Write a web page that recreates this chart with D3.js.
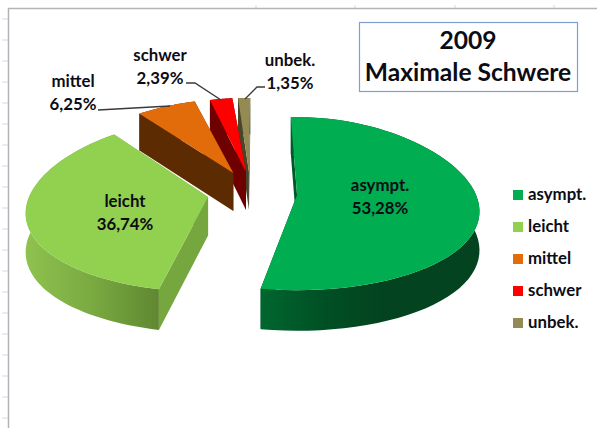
<!DOCTYPE html>
<html><head><meta charset="utf-8">
<script src="https://cdn.jsdelivr.net/npm/d3@7"></script>
<style>html,body{margin:0;padding:0;background:#fff}svg{display:block}text{font-family:Lato,"Open Sans",sans-serif;font-weight:700;fill:#0c0c14}</style>
</head><body><svg id="c" width="597" height="428"></svg>
<script>
const categories = ["asympt.","leicht","mittel","schwer","unbek."];
const values = [53.28,36.74,6.25,2.39,1.35];
const valueLabels = ["53,28%","36,74%","6,25%","2,39%","1,35%"];
const colors = ["#00AD50","#92D050","#E36C0A","#FF0000","#948A54"];
const cutColors = ["#00582A","#76A63E","#5C2B02","#6E0000","#4A452A"];
const explodeU = [0.27,0.246,0.22,0.13,0.1];
const explodeV = [0.27,0.2,0.257,0.248,0.245];
const depthScale = [1,1,0.95,0.95,0.95];
const twistStart = [-1.5,2.5,-1.5,0,1.5];
const twistEnd = [-1,-1.5,-1,0.4,1.5];
const titleLines = ["2009","Maximale Schwere"];

const svg = d3.select("#c");
const C = {x:250,y:193}, rx=179, ry=86.5, ex=175, kx=0.2, ky=0.1;
const depth = d3.scaleLinear().domain([100,330]).range([36.5,41.5]);
const rad = d3.scaleLinear().domain([0,360]).range([0,2*Math.PI]);

// spreadsheet frame and ruler ticks
const g0 = svg.append("g");
g0.selectAll("line.l").data(d3.range(19,428,21)).join("line")
  .attr("x1",2).attr("x2",8).attr("y1",d=>d).attr("y2",d=>d).attr("stroke","#D3D8EA");
g0.selectAll("line.t").data([256,355,455,554]).join("line")
  .attr("x1",d=>d).attr("x2",d=>d).attr("y1",5).attr("y2",8).attr("stroke","#D3D8EA");
g0.append("path").attr("d","M8.5,428V8.5H597").attr("fill","none").attr("stroke","#B4B4B8").attr("stroke-width",1.5);

const defs = svg.append("defs");
function grad(id,stops,x1,x2){
  const g=defs.append("linearGradient").attr("id",id).attr("gradientUnits","userSpaceOnUse")
    .attr("x1",x1).attr("x2",x2).attr("y1",0).attr("y2",0);
  stops.forEach(s=>g.append("stop").attr("offset",s[0]).attr("stop-color",s[1]));
  return `url(#${id})`;
}
const wallFill = [
  grad("w0",[[0,"#00662F"],[0.3,"#004F24"],[0.55,"#04431F"],[1,"#04431F"]],261,480),
  grad("w1",[[0,"#8FC24F"],[0.5,"#79A941"],[1,"#5F8630"]],25,162),
  cutColors[2],cutColors[3],cutColors[4]
];

const arcs = d3.pie().sort(null).value(d=>d).startAngle(rad(-1)).endAngle(rad(359))(values);
const line = d3.line();
const slices = arcs.map((a,i)=>{
  const mid=(a.startAngle+a.endAngle)/2, vm=-Math.cos(mid);
  const apex=[C.x+ex*Math.sin(mid)*explodeU[i], C.y+ry*vm*explodeV[i]];
  const pt=(t)=>{const u=Math.sin(t),v=-Math.cos(t);
    return [apex[0]+rx*u*(1+kx*v), apex[1]+ry*depthScale[i]*v*(1+ky*v)];};
  const arcPts=d3.range(0,61).map(j=>{
    const f=j/60;
    return pt(a.startAngle+(a.endAngle-a.startAngle)*f+rad(twistStart[i]+(twistEnd[i]-twistStart[i])*f));
  });
  return {i,apex,arcPts};
});
const down=p=>[p[0],p[1]+depth(p[1])];
const g=svg.append("g");
// back slices first
[4,3,2,1,0].forEach(i=>{
  const s=slices[i], n=s.arcPts.length-1, gs=g.append("g");
  const quad=(a,b)=>line([a,b,down(b),down(a)])+"Z";
  gs.append("path").attr("d",quad(s.apex,s.arcPts[n])).attr("fill",cutColors[i]);
  gs.append("path").attr("d",quad(s.apex,s.arcPts[0])).attr("fill",cutColors[i]);
  gs.append("path").attr("d",line(s.arcPts.concat(s.arcPts.map(down).reverse()))+"Z").attr("fill",wallFill[i]);
  gs.append("path").attr("d",line([s.apex].concat(s.arcPts))+"Z").attr("fill",colors[i]);
});

// leader lines
const leaders=[[[98,110],[170,106]],[[186,83],[195,83],[221,100]],[[245,99],[257,87],[265,87]]];
g.selectAll("path.lead").data(leaders).join("path").attr("class","lead")
  .attr("d",d=>line(d)).attr("fill","none").attr("stroke","#3a3a3a").attr("stroke-width",1.4);

// data labels
const labelPos=[[380,191],[125,207],[73,87],[160,61],[290,66]];
const lg=svg.append("g").attr("text-anchor","middle").style("font-size","16.8px");
categories.forEach((c,i)=>{
  lg.append("text").attr("x",labelPos[i][0]).attr("y",labelPos[i][1]).text(c);
  lg.append("text").attr("x",labelPos[i][0]).attr("y",labelPos[i][1]+23).text(valueLabels[i]);
});

// legend
const ly=d3.scalePoint().domain(categories).range([195,323]);
const leg=svg.append("g");
leg.selectAll("rect").data(categories).join("rect")
  .attr("x",513).attr("y",d=>ly(d)-5).attr("width",10).attr("height",10)
  .attr("fill",(d,i)=>colors[i]);
leg.selectAll("text").data(categories).join("text")
  .attr("x",528).attr("y",d=>ly(d)+5).style("font-size","16.8px").text(d=>d);

// title
svg.append("rect").attr("x",359.5).attr("y",22.5).attr("width",218).attr("height",69)
  .attr("fill","#fff").attr("stroke","#7F9FCF").attr("stroke-width",1.2);
svg.selectAll("text.title").data(titleLines).join("text").attr("class","title")
  .attr("x",468).attr("y",(d,i)=>i?81:49).attr("text-anchor","middle")
  .style("font-size","24.6px").text(d=>d);
</script></body></html>
